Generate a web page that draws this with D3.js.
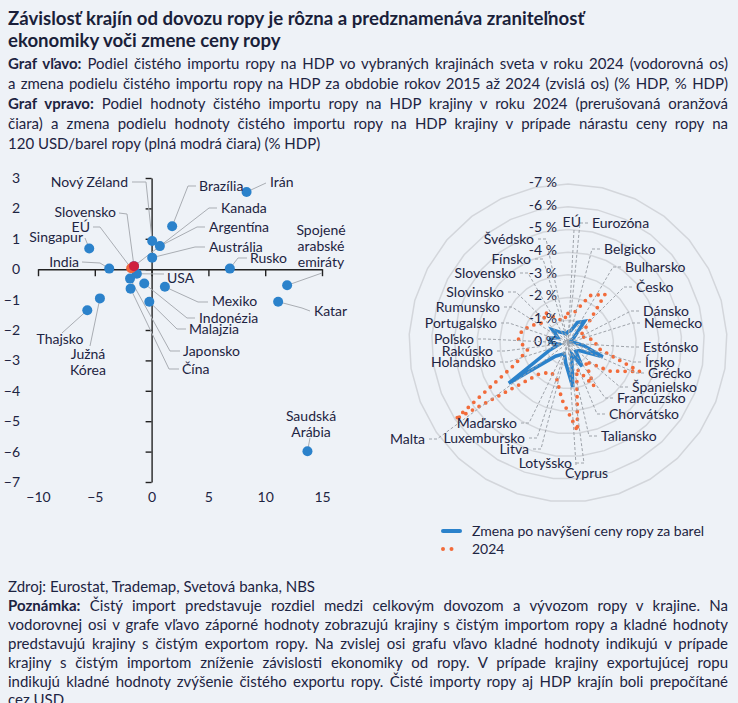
<!DOCTYPE html>
<html>
<head>
<meta charset="utf-8">
<script src="https://cdn.jsdelivr.net/npm/d3@7"></script>
<style>
  body { margin: 0; background: #eef2f7; }
  #wrap { position: relative; width: 738px; height: 703px; overflow: hidden;
          font-family: Lato, "Open Sans", sans-serif; color: #1d2442; background: #eef2f7; }
  .t { position: absolute; left: 8px; width: 720px; white-space: nowrap; }
  .title { font-weight: bold; font-size: 18.6px; line-height: 22px; height: 22px; color: #1a1f3a; }
  .ln { font-size: 15px; line-height: 20px; height: 20px; }
  .j { text-align: justify; text-align-last: justify; }
  svg { position: absolute; left: 0; top: 0; }
  svg text { font-family: Lato, "Open Sans", sans-serif; font-size: 14px; fill: #1d2442; }
</style>
</head>
<body>
<div id="wrap">
  <div class="t title" style="top:7px">Závislosť krajín od dovozu ropy je rôzna a predznamenáva zraniteľnosť</div>
  <div class="t title" style="top:29px">ekonomiky voči zmene ceny ropy</div>
  <div class="t ln j" style="top:53px"><b>Graf vľavo:</b> Podiel čistého importu ropy na HDP vo vybraných krajinách sveta v roku 2024 (vodorovná os)</div>
  <div class="t ln j" style="top:73px">a zmena podielu čistého importu ropy na HDP za obdobie rokov 2015 až 2024 (zvislá os) (% HDP, % HDP)</div>
  <div class="t ln j" style="top:93px"><b>Graf vpravo:</b> Podiel hodnoty čistého importu ropy na HDP krajiny v roku 2024 (prerušovaná oranžová</div>
  <div class="t ln j" style="top:113px">čiara) a zmena podielu hodnoty čistého importu ropy na HDP krajiny v prípade nárastu ceny ropy na</div>
  <div class="t ln" style="top:133px">120 USD/barel ropy (plná modrá čiara) (% HDP)</div>

  <div class="t ln" style="top:576px">Zdroj: Eurostat, Trademap, Svetová banka, NBS</div>
  <div class="t ln j" style="top:595px"><b>Poznámka:</b> Čistý import predstavuje rozdiel medzi celkovým dovozom a vývozom ropy v krajine. Na</div>
  <div class="t ln j" style="top:614px">vodorovnej osi v grafe vľavo záporné hodnoty zobrazujú krajiny s čistým importom ropy a kladné hodnoty</div>
  <div class="t ln j" style="top:633px">predstavujú krajiny s čistým exportom ropy. Na zvislej osi grafu vľavo kladné hodnoty indikujú v prípade</div>
  <div class="t ln j" style="top:652px">krajiny s čistým importom zníženie závislosti ekonomiky od ropy. V prípade krajiny exportujúcej ropu</div>
  <div class="t ln j" style="top:671px">indikujú kladné hodnoty zvýšenie čistého exportu ropy. Čisté importy ropy aj HDP krajín boli prepočítané</div>
  <div class="t ln" style="top:689px">cez USD.</div>

  <svg id="chart" width="738" height="703"></svg>
</div>

<script>
// ---- left chart data: net oil import 2024 (x) and change 2015-2024 (y), % HDP
const scatterCountries = ["Kanada", "Irán", "Brazília", "Nový Zéland", "Argentína", "Austrália", "Singapur", "India",
  "Rusko", "Spojené arabské emiráty", "Katar", "Južná Kórea", "Thajsko", "Saudská Arábia", "USA",
  "Japonsko", "Indonézia", "Čína", "Mexiko", "Malajzia", "EÚ", "Slovensko"];
const netImport2024 = [-1.55, 8.36, 1.81, 0.05, 0.73, 0.05, -5.49, -3.73,
  6.89, 11.93, 11.14, -4.55, -5.66, 13.72, -1.3,
  -1.9, -0.65, -1.85, 1.17, -0.2, -1.8, -1.55];
const change2015to2024 = [0.1, 2.54, 1.41, 0.93, 0.76, 0.38, 0.68, 0.02,
  0.02, -0.53, -1.07, -0.96, -1.35, -5.99, -0.15,
  -0.31, -0.47, -0.64, -0.58, -1.07, 0.03, 0.1];
const xTicks = [-10, -5, 0, 5, 10, 15];
const yTicks = [3, 2, 1, 0, -1, -2, -3, -4, -5, -6, -7];

// ---- right chart data (% HDP)
const radarCountries = ["EÚ", "Eurozóna", "Belgicko", "Bulharsko", "Česko", "Dánsko", "Nemecko", "Estónsko",
  "Írsko", "Grécko", "Španielsko", "Francúzsko", "Chorvátsko", "Taliansko", "Cyprus", "Lotyšsko",
  "Litva", "Luxembursko", "Maďarsko", "Malta", "Holandsko", "Rakúsko", "Poľsko", "Portugalsko",
  "Rumunsko", "Slovinsko", "Slovensko", "Fínsko", "Švédsko"];
const share2024 = [-1.3, -1.4, -2.3, -2.7, -1.0, -0.6, -0.9, -1.2,
  -1.3, -3.4, -2.2, -1.1, -2.2, -1.2, -3.9, -2.5,
  -1.6, -1.5, -1.9, -6.0, -2.5, -1.8, -2.2, -2.1,
  -1.7, -1.4, -1.7, -1.2, -1.0];
const shareAt120 = [-0.5, -0.55, -1.0, -1.2, -0.3, -0.1, -0.15, -0.3,
  -0.7, -1.65, -0.6, -0.5, -1.2, -0.5, -1.95, -0.9,
  -0.5, -0.6, -0.8, -3.15, -0.9, -0.4, -0.8, -0.8,
  -0.5, -0.9, -0.6, -0.5, -0.4];
const radarTicks = [0, -1, -2, -3, -4, -5, -6, -7];

const ink = "#1d2442", blue = "#2b82cb", orange = "#f26b3a", red = "#d0213f", euCol = "#f0663c";
const highlight = { "EÚ": euCol, "Slovensko": red, "Eurozóna": "#f8a93a" };

const svg = d3.select("#chart");

// ================= left scatter =================
const x = d3.scaleLinear().domain([-10, 15]).range([38, 322]);
const y = d3.scaleLinear().domain([-7, 3]).range([482, 178]);

const gy = svg.append("g").attr("transform", `translate(${x(0)},0)`)
  .call(d3.axisLeft(y).tickValues(yTicks).tickSize(6).tickSizeOuter(0).tickPadding(x(0) - 26));
const gx = svg.append("g").attr("transform", `translate(0,${y(0)})`)
  .call(d3.axisBottom(x).tickValues(xTicks).tickSize(7).tickSizeOuter(0).tickPadding(y(-7) - y(0) + 3));
[gx, gy].forEach(g => {
  g.selectAll("path,line").attr("stroke", "#222").attr("stroke-width", 1.4);
  g.selectAll("text").attr("font-size", 14).attr("font-family", "Lato, sans-serif").attr("fill", ink);
});

// label layout: [text x, centre y, anchor, leader start, optional elbow]
const scatterLabels = {
  "Nový Zéland": [128, 182, "end", [132, 182], [146, 182]],
  "Brazília": [199, 186, "start", [196, 186], [188, 186]],
  "Irán": [270, 182, "start", [266, 183]],
  "Kanada": [221, 208, "start", [217, 208], [209, 208]],
  "Argentína": [209, 227, "start", [205, 227], [197, 227]],
  "Austrália": [209, 247, "start", [205, 247], [195, 247]],
  "Rusko": [250, 258, "start", [247, 258], [238, 258]],
  "Spojené arabské emiráty": [321, 230, "middle", [322, 273]],
  "Katar": [314, 311, "start", [310, 311], [302, 308]],
  "USA": [167, 278, "start", [164, 274]],
  "Mexiko": [212, 301, "start", [208, 302], [198, 302]],
  "Indonézia": [199, 318, "start", [195, 318], [187, 318]],
  "Malajzia": [189, 329, "start", [186, 329], [177, 329]],
  "Japonsko": [183, 351, "start", [180, 351], [170, 351]],
  "Čína": [182, 369, "start", [179, 369], [169, 369]],
  "Thajsko": [60, 339, "middle", [62, 333]],
  "Južná Kórea": [88, 354, "middle", [90, 346]],
  "Singapur": [83, 237, "end", [85, 238]],
  "India": [79, 262, "end", [82, 262], [100, 263]],
  "Slovensko": [116, 212, "end", [119, 213], [127, 214]],
  "EÚ": [90, 227, "end", [93, 227], [100, 227]],
  "Saudská Arábia": [311, 416, "middle", [310, 438]]
};
const multiLine = { "Spojené arabské emiráty": ["Spojené", "arabské", "emiráty"],
                    "Južná Kórea": ["Južná", "Kórea"], "Saudská Arábia": ["Saudská", "Arábia"] };

const pts = scatterCountries.map((c, i) => ({ c, vx: netImport2024[i], vy: change2015to2024[i] }));

svg.append("g").selectAll("path").data(pts).join("path")
  .attr("fill", "none").attr("stroke", "#a9adb3").attr("stroke-width", 1)
  .attr("d", d => {
    const L = scatterLabels[d.c];
    const p = [L[3]];
    if (L[4]) p.push(L[4]);
    p.push([x(d.vx), y(d.vy)]);
    return d3.line()(p);
  });

svg.append("g").selectAll("circle").data(pts).join("circle")
  .attr("cx", d => x(d.vx)).attr("cy", d => y(d.vy)).attr("r", 5)
  .attr("fill", d => d.c === "Slovensko" ? red : d.c === "EÚ" ? euCol : blue);

const sl = svg.append("g").selectAll("text").data(pts).join("text")
  .attr("x", d => scatterLabels[d.c][0]).attr("y", d => scatterLabels[d.c][1])
  .attr("text-anchor", d => scatterLabels[d.c][2])
  .attr("fill", d => highlight[d.c] || ink);
sl.each(function (d) {
  const lines = multiLine[d.c] || [d.c];
  const t = d3.select(this);
  lines.forEach((s, k) => t.append("tspan").attr("x", scatterLabels[d.c][0])
    .attr("dy", k === 0 ? "0.35em" : "1.15em").text(s));
});

// ================= right radar =================
const cx = 568, cy = 343;
const r = d3.scaleLinear().domain([0, -7]).range([0, 159]);
const n = radarCountries.length;
const ang = i => i * 2 * Math.PI / n;
const radar = svg.append("g").attr("transform", `translate(${cx},${cy})`);

radar.append("g").selectAll("path").data(radarTicks.slice(1)).join("path")
  .attr("fill", "none").attr("stroke", "#d3d6db").attr("stroke-width", 1.5)
  .attr("d", v => d3.lineRadial().angle((d, i) => ang(i)).radius(() => r(v))
    .curve(d3.curveLinearClosed)(radarCountries));

// label layout: [x, centre y, anchor]
const radarLabels = {
  "EÚ": [581, 222, "end"], "Eurozóna": [592, 223, "start"], "Belgicko": [604, 249, "start"],
  "Bulharsko": [625, 267, "start"], "Česko": [636, 287, "start"], "Dánsko": [643, 311, "start"],
  "Nemecko": [644, 323, "start"], "Estónsko": [643, 347, "start"], "Írsko": [645, 362, "start"],
  "Grécko": [648, 373, "start"], "Španielsko": [632, 387, "start"], "Francúzsko": [617, 398, "start"],
  "Chorvátsko": [609, 414, "start"], "Taliansko": [601, 436, "start"], "Cyprus": [565, 473, "start"],
  "Lotyšsko": [572, 463, "end"], "Litva": [529, 449, "end"], "Luxembursko": [525, 438, "end"],
  "Maďarsko": [517, 423, "end"], "Malta": [425, 439, "end"], "Holandsko": [496, 362, "end"],
  "Rakúsko": [493, 351, "end"], "Poľsko": [474, 339, "end"], "Portugalsko": [497, 323, "end"],
  "Rumunsko": [500, 307, "end"], "Slovinsko": [504, 292, "end"], "Slovensko": [516, 273, "end"],
  "Fínsko": [531, 259, "end"], "Švédsko": [534, 239, "end"]
};

const leader = c => {
  const [lx, ly, a] = radarLabels[c];
  if (c === "EÚ") return d3.line()([[574, 230], [cx, cy]]);
  if (c === "Cyprus") return d3.line()([[576, 465], [cx, cy]]);
  const s = a === "start" ? -1 : 1;
  return d3.line()([[lx + s * 4, ly], [lx + s * 12, ly], [cx, cy]]);
};
svg.append("g").selectAll("path").data(radarCountries).join("path")
  .attr("fill", "none").attr("stroke", "#9ea3aa").attr("stroke-width", 1)
  .attr("stroke-dasharray", "3,2").attr("d", leader);

radar.append("path").datum(shareAt120)
  .attr("fill", "none").attr("stroke", blue).attr("stroke-width", 3.5).attr("stroke-linejoin", "miter")
  .attr("d", d3.lineRadial().angle((d, i) => ang(i)).radius(d => r(d)).curve(d3.curveLinearClosed));

radar.append("path").datum(share2024)
  .attr("fill", "none").attr("stroke", orange).attr("stroke-width", 3.8)
  .attr("stroke-linecap", "round").attr("stroke-dasharray", "0,7.5")
  .attr("d", d3.lineRadial().angle((d, i) => ang(i)).radius(d => r(d)).curve(d3.curveLinearClosed));

radar.append("g").selectAll("text").data(radarTicks).join("text")
  .attr("x", -11).attr("y", v => -r(v) - 2).attr("dy", "0.35em").attr("text-anchor", "end")
  .text(v => (v === 0 ? "0" : "-" + Math.abs(v)) + " %");

svg.append("g").selectAll("text").data(radarCountries).join("text")
  .attr("x", c => radarLabels[c][0]).attr("y", c => radarLabels[c][1])
  .attr("dy", "0.35em").attr("text-anchor", c => radarLabels[c][2])
  .attr("fill", c => highlight[c] || ink).text(c => c);

// legend
const lg = svg.append("g");
lg.append("line").attr("x1", 443).attr("x2", 460).attr("y1", 531).attr("y2", 531)
  .attr("stroke", blue).attr("stroke-width", 4).attr("stroke-linecap", "round");
lg.append("line").attr("x1", 443).attr("x2", 460).attr("y1", 549).attr("y2", 549)
  .attr("stroke", orange).attr("stroke-width", 4).attr("stroke-linecap", "round").attr("stroke-dasharray", "0,8.5");
lg.append("text").attr("x", 472).attr("y", 531).attr("dy", "0.35em").text("Zmena po navýšení ceny ropy za barel");
lg.append("text").attr("x", 472).attr("y", 549).attr("dy", "0.35em").text("2024");
</script>
</body>
</html>
